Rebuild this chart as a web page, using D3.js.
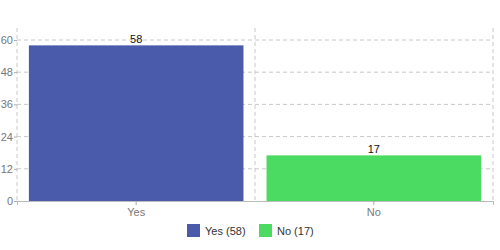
<!DOCTYPE html>
<html>
<head>
<meta charset="utf-8">
<script src="https://cdn.jsdelivr.net/npm/d3@7"></script>
<style>
  body { margin: 0; background: #fff; }
  text { font-family: "Liberation Sans", Arial, sans-serif; }
</style>
</head>
<body>
<svg id="chart" width="500" height="250"></svg>
<script>
// data
const categories = ["Yes", "No"];
const values = [58, 17];
const colors = ["#4a5bab", "#4cdb62"];
const yTicks = [0, 12, 24, 36, 48, 60];

const svg = d3.select("#chart");
const margin = { top: 40, right: 7, bottom: 49, left: 17 };
const width = 500, height = 250;
const innerW = width - margin.left - margin.right;
const innerH = height - margin.top - margin.bottom;

const g = svg.append("g").attr("transform", `translate(${margin.left},${margin.top})`);

const x = d3.scaleBand().domain(categories).range([0, innerW]).paddingInner(0.097).paddingOuter(0.05);
const y = d3.scaleLinear().domain([0, 60]).range([innerH, 0]);

// grid lines (horizontal)
g.append("g").selectAll("line")
    .data(yTicks.filter(d => d > 0))
    .join("line")
    .attr("x1", 0).attr("x2", innerW)
    .attr("y1", d => y(d)).attr("y2", d => y(d))
    .attr("stroke", "#c8c8c8").attr("stroke-dasharray", "4,3");

// vertical lines: left axis, category divider, right edge
const divider = x(categories[1]) - x.step() * x.paddingInner() / 2;
g.append("g").selectAll("line")
    .data([0, divider, innerW])
    .join("line")
    .attr("x1", d => d).attr("x2", d => d)
    .attr("y1", -12).attr("y2", innerH)
    .attr("stroke", "#c8c8c8").attr("stroke-dasharray", "4,3");

// bars
g.selectAll("rect.bar")
    .data(values)
    .join("rect")
    .attr("class", "bar")
    .attr("x", (d, i) => x(categories[i]))
    .attr("width", x.bandwidth())
    .attr("y", d => y(d))
    .attr("height", d => innerH - y(d))
    .attr("fill", (d, i) => colors[i]);

// value labels
g.selectAll("text.val")
    .data(values)
    .join("text")
    .attr("class", "val")
    .attr("x", (d, i) => x(categories[i]) + x.bandwidth() / 2)
    .attr("y", d => y(d) - 2)
    .attr("text-anchor", "middle")
    .style("font-size", "11px").attr("fill", "#111")
    .text(d => d);

// y axis
const yAxis = g.append("g").call(d3.axisLeft(y).tickValues(yTicks).tickSize(3).tickPadding(1));
yAxis.select(".domain").remove();
yAxis.selectAll(".tick line").attr("stroke", "#aaa");
yAxis.selectAll(".tick text").attr("fill", "#777").style("font-size", "11px")
    .style("font-family", "'Liberation Sans', Arial, sans-serif");

// x axis
const xAxis = g.append("g").attr("transform", `translate(0,${innerH})`)
    .call(d3.axisBottom(x).tickSize(4).tickPadding(3));
xAxis.select(".domain").attr("stroke", "#bbb");
xAxis.selectAll(".tick line").attr("stroke", "#aaa");
xAxis.selectAll(".tick text").attr("fill", "#777").style("font-size", "11px")
    .style("font-family", "'Liberation Sans', Arial, sans-serif");

// legend
const legend = svg.append("g").attr("transform", "translate(187,224)");
const items = categories.map((c, i) => `${c} (${values[i]})`);
const offsets = [0, 72];
const li = legend.selectAll("g").data(items).join("g")
    .attr("transform", (d, i) => `translate(${offsets[i]},0)`);
li.append("rect").attr("width", 13).attr("height", 13).attr("fill", (d, i) => colors[i]);
li.append("text").attr("x", 18).attr("y", 11).style("font-size", "11px").attr("fill", "#333").text(d => d);
</script>
</body>
</html>
